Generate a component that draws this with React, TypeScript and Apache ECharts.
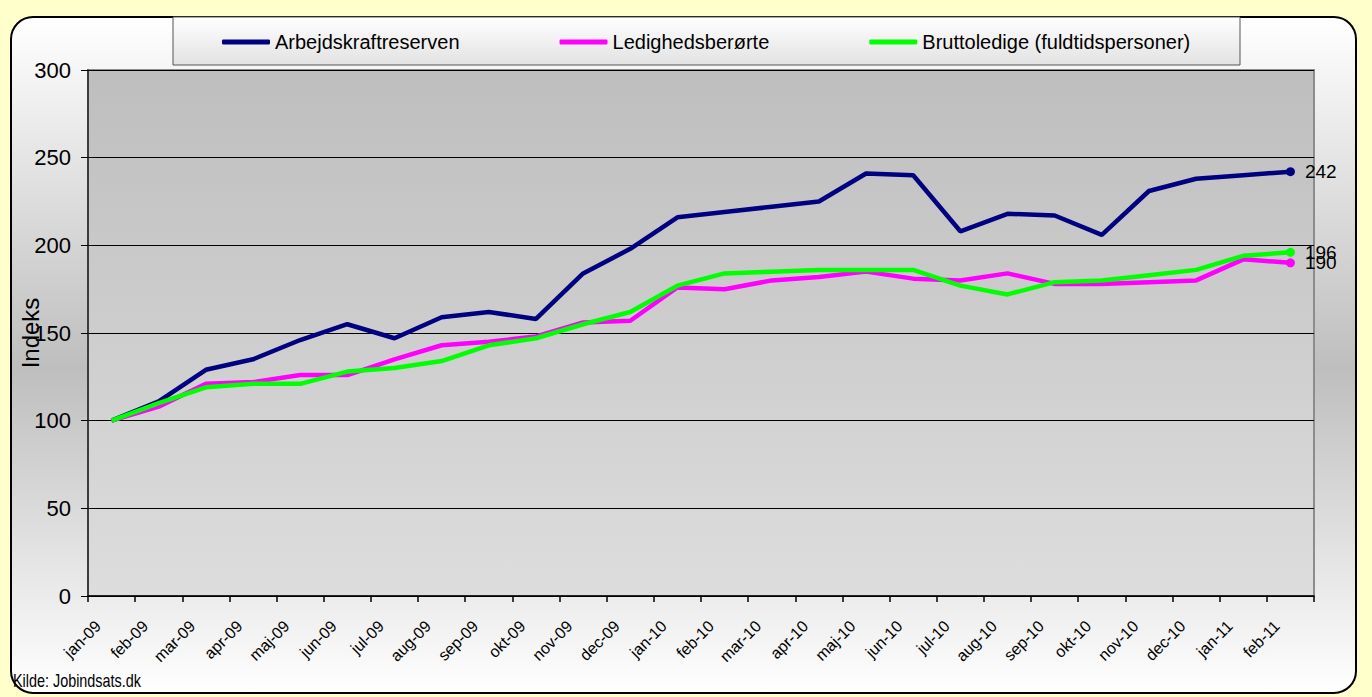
import React, { useEffect, useRef } from "react";
import * as echarts from "echarts";

const categories = [
  "jan-09", "feb-09", "mar-09", "apr-09", "maj-09", "jun-09", "jul-09", "aug-09", "sep-09", "okt-09", "nov-09", "dec-09",
  "jan-10", "feb-10", "mar-10", "apr-10", "maj-10", "jun-10", "jul-10", "aug-10", "sep-10", "okt-10", "nov-10", "dec-10",
  "jan-11", "feb-11",
];

const arbejdskraftreserven = [
  100, 111, 129, 135, 146, 155, 147, 159, 162, 158, 184, 198,
  216, 219, 222, 225, 241, 240, 208, 218, 217, 206, 231, 238,
  240, 242,
];

const ledighedsberoerte = [
  100, 108, 121, 122, 126, 126, 135, 143, 145, 148, 156, 157,
  176, 175, 180, 182, 185, 181, 180, 184, 178, 178, 179, 180,
  192, 190,
];

const bruttoledige = [
  100, 110, 119, 121, 121, 128, 130, 134, 143, 147, 155, 162,
  177, 184, 185, 186, 186, 186, 177, 172, 179, 180, 183, 186,
  194, 196,
];

const seriesNames = ["Arbejdskraftreserven", "Ledighedsberørte", "Bruttoledige (fuldtidspersoner)"];
const seriesColors = ["#000080", "#FF00FF", "#00FF00"];
const yTicks = { min: 0, max: 300, interval: 50 };
const yAxisName = "Indeks";
const sourceText = "Kilde: Jobindsats.dk";

const FONT = "'Liberation Sans', Arial, sans-serif";

function buildData(values: number[]) {
  const last = values.length - 1;
  return values.map((v, i) =>
    i === last
      ? { value: v, symbolSize: 9, label: { show: true } }
      : { value: v, symbolSize: 0, label: { show: false } }
  );
}

export default function App() {
  const ref = useRef<HTMLDivElement>(null);

  useEffect(() => {
    if (!ref.current) return;
    const chart = echarts.init(ref.current, null, { renderer: "svg" });
    const allSeries = [arbejdskraftreserven, ledighedsberoerte, bruttoledige];

    chart.setOption({
      animation: false,
      backgroundColor: "#FFFFCC",
      graphic: [
        {
          type: "rect",
          z: -10,
          shape: { x: 11, y: 17, width: 1345, height: 676, r: 22 },
          style: {
            fill: {
              type: "linear", x: 0, y: 0, x2: 0, y2: 1,
              colorStops: [
                { offset: 0, color: "#FFFFFF" },
                { offset: 0.52, color: "#BEBEBE" },
                { offset: 1, color: "#FFFFFF" },
              ],
            },
            stroke: "#000000",
            lineWidth: 2,
          },
        },
        {
          type: "rect",
          z: -5,
          shape: { x: 173, y: 17, width: 1067, height: 48 },
          style: {
            fill: {
              type: "linear", x: 0, y: 0, x2: 0, y2: 1,
              colorStops: [
                { offset: 0, color: "#FFFFFF" },
                { offset: 1, color: "#E2E2E2" },
              ],
            },
            stroke: "#555555",
            lineWidth: 1,
          },
        },
        {
          type: "text",
          z: 10,
          x: 13,
          y: 689,
          scaleX: 0.8,
          style: {
            text: sourceText,
            font: `18px ${FONT}`,
            fill: "#000000",
            textVerticalAlign: "bottom",
            verticalAlign: "bottom",
          },
        },
      ],
      legend: {
        left: 173,
        top: 17,
        padding: [15, 49, 15, 49],
        itemGap: 100,
        itemWidth: 48,
        itemHeight: 5,
        icon: "roundRect",
        selectedMode: false,
        data: seriesNames,
        textStyle: { fontSize: 20, fontFamily: FONT, color: "#000", lineHeight: 18 },
      },
      grid: {
        left: 88,
        right: 58,
        top: 70,
        bottom: 101,
        outerBoundsMode: "none",
        containLabel: false,
        show: true,
        borderColor: "#8C8C8C",
        borderWidth: 2,
        backgroundColor: {
          type: "linear", x: 0, y: 0, x2: 0, y2: 1,
          colorStops: [
            { offset: 0, color: "#BEBEBE" },
            { offset: 1, color: "#DDDDDD" },
          ],
        },
      },
      xAxis: {
        type: "category",
        data: categories,
        boundaryGap: true,
        axisLine: { show: true, lineStyle: { color: "#000", width: 1.5 } },
        axisTick: { show: true, interval: 0, length: 6, alignWithLabel: false, lineStyle: { color: "#000", width: 1.5 } },
        axisLabel: {
          interval: 0,
          rotate: 45,
          fontSize: 16,
          fontFamily: FONT,
          color: "#000",
          margin: 14,
          formatter: (v: string) => `{t|${v}}{s|}`,
          rich: {
            t: { fontSize: 16, fontFamily: FONT, color: "#000" },
            s: { width: 19 },
          },
        },
        splitLine: { show: false },
      },
      yAxis: {
        type: "value",
        min: yTicks.min,
        max: yTicks.max,
        interval: yTicks.interval,
        name: yAxisName,
        nameLocation: "middle",
        nameRotate: 90,
        nameGap: 46,
        nameMoveOverlap: false,
        nameTextStyle: { fontSize: 24, fontFamily: FONT, color: "#000" },
        axisLine: { show: true, lineStyle: { color: "#222", width: 1.5 } },
        axisTick: { show: true, length: 7, lineStyle: { color: "#000", width: 1 } },
        axisLabel: { fontSize: 22, fontFamily: FONT, color: "#000", margin: 17 },
        splitLine: { show: true, lineStyle: { color: "#000", width: 1 } },
      },
      series: allSeries.map((values, k) => ({
        name: seriesNames[k],
        type: "line",
        data: buildData(values),
        symbol: "circle",
        showSymbol: true,
        color: seriesColors[k],
        lineStyle: { color: seriesColors[k], width: 4.5 },
        itemStyle: { color: seriesColors[k] },
        label: {
          position: "right",
          distance: 10,
          fontSize: 19,
          fontFamily: FONT,
          color: "#000",
        },
        labelLayout: { hideOverlap: false },
        z: 2 + k,
      })),
    });

    return () => chart.dispose();
  }, []);

  return (
    <div
      ref={ref}
      style={{ position: "fixed", left: 0, top: 0, width: 1372, height: 697 }}
    />
  );
}
